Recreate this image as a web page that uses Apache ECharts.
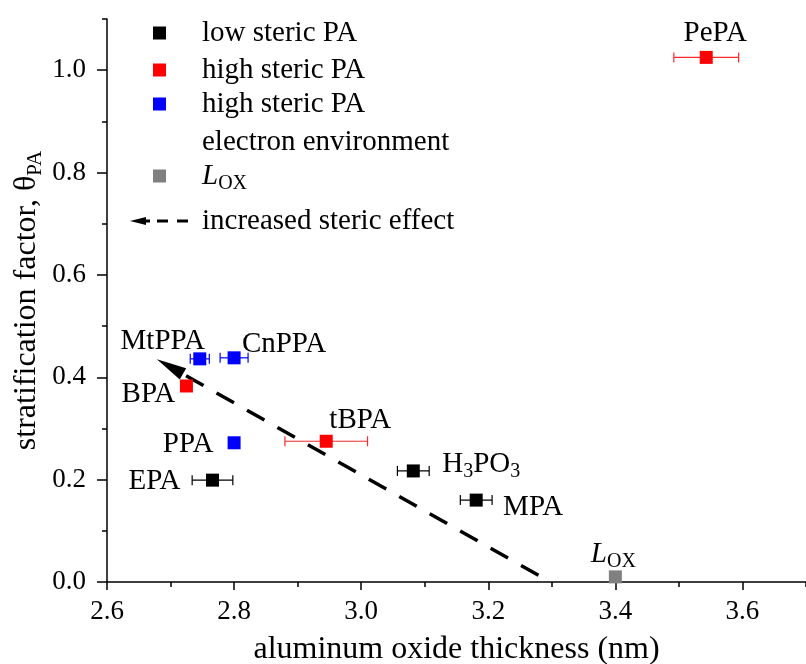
<!DOCTYPE html>
<html>
<head>
<meta charset="utf-8">
<script src="https://cdn.jsdelivr.net/npm/echarts@6/dist/echarts.min.js"></script>
<style>
  html, body { margin: 0; padding: 0; background: #fff; }
  #chart { width: 806px; height: 664px; }
</style>
</head>
<body>
<div id="chart"></div>
<script>
// ---- axis tick values ----
const xMajorTicks = [2.6, 2.8, 3.0, 3.2, 3.4, 3.6];
const xMinorTicks = [2.7, 2.9, 3.1, 3.3, 3.5, 3.7];
const yMajorTicks = [0.0, 0.2, 0.4, 0.6, 0.8, 1.0];
const yMinorTicks = [0.1, 0.3, 0.5, 0.7, 0.9, 1.1];

// ---- low steric phosphonic acids ----
const lowNames = ['EPA', 'H3PO3', 'MPA'];
const lowX     = [2.766, 3.082, 3.181];
const lowY     = [0.199, 0.217, 0.160];
const lowErr   = [0.032, 0.025, 0.025];

// ---- high steric phosphonic acids ----
const highNames = ['BPA', 'tBPA', 'PePA'];
const highX     = [2.725, 2.945, 3.543];
const highY     = [0.383, 0.275, 1.025];
const highErr   = [0, 0.065, 0.051];

// ---- high steric, modified electron environment ----
const elecNames = ['MtPPA', 'CnPPA', 'PPA'];
const elecX     = [2.746, 2.800, 2.800];
const elecY     = [0.436, 0.438, 0.272];
const elecErr   = [0.015, 0.022, 0];

// ---- oxide thickness reference ----
const loxNames = ['Lox'];
const loxX     = [3.40];
const loxY     = [0.010];

// ---- trend arrow (start, arrow head centre) ----
const arrowFrom = [3.279, 0.013];
const arrowTo   = [2.699, 0.421];

// ---- legend entries ----
const legendNames = ['low steric PA', 'high steric PA', 'high steric PA ', 'electron environment', 'Lox', 'increased steric effect'];

// ---------------------------------------------------------------
const FONT = '"Liberation Serif", "Times New Roman", serif';
const LABEL_SIZE = 29;
const rich = {
  n: { fontSize: LABEL_SIZE, fontFamily: FONT, color: '#000' },
  i: { fontSize: LABEL_SIZE, fontFamily: FONT, color: '#000', fontStyle: 'italic' },
  s: { fontSize: 20, fontFamily: FONT, color: '#000', padding: [16, 0, 0, 0] }
};

// label text and placement relative to each marker centre
const labelText = {
  H3PO3: '{n|H}{s|3}{n|PO}{s|3}',
  Lox: '{i|L}{s|OX}'
};
const labelOffset = {
  EPA: [-58, 1], H3PO3: [68, -7], MPA: [57, 7],
  BPA: [-38, 8], tBPA: [34, -21], PePA: [9, -24],
  MtPPA: [-37, -17], CnPPA: [50, -13], PPA: [-46, 2],
  Lox: [-2, -23]
};

function points(names, xs, ys) {
  return names.map((n, k) => ({
    name: n,
    value: [xs[k], ys[k]],
    label: { offset: labelOffset[n] }
  }));
}

function scatter(seriesName, names, xs, ys, color) {
  return {
    type: 'scatter',
    name: seriesName,
    xAxisIndex: 0, yAxisIndex: 0,
    symbol: 'rect',
    symbolSize: 13,
    itemStyle: { color: color, opacity: 1 },
    z: 5,
    label: {
      show: true,
      position: 'inside',
      align: 'center',
      verticalAlign: 'middle',
      color: '#000',
      opacity: 1,
      fontFamily: FONT,
      fontSize: LABEL_SIZE,
      rich: rich,
      formatter: p => labelText[p.name] || ('{n|' + p.name + '}')
    },
    data: points(names, xs, ys)
  };
}

function errorBars(xs, ys, errs, color) {
  const rows = [];
  xs.forEach((x, k) => { if (errs[k] > 0) rows.push([x, ys[k], errs[k]]); });
  return {
    type: 'custom',
    xAxisIndex: 0, yAxisIndex: 0,
    z: 3,
    silent: true,
    encode: { x: 0, y: 1 },
    renderItem: function (params, api) {
      const x = api.value(0), y = api.value(1), e = api.value(2);
      const a = api.coord([x - e, y]);
      const b = api.coord([x + e, y]);
      const h = 5;
      const st = { stroke: color, lineWidth: 1.2, fill: null };
      return {
        type: 'group',
        children: [
          { type: 'line', shape: { x1: a[0], y1: a[1], x2: b[0], y2: b[1] }, style: st },
          { type: 'line', shape: { x1: a[0], y1: a[1] - h, x2: a[0], y2: a[1] + h }, style: st },
          { type: 'line', shape: { x1: b[0], y1: b[1] - h, x2: b[0], y2: b[1] + h }, style: st }
        ]
      };
    },
    data: rows
  };
}

const axisLineStyle = { color: '#000', width: 1.5 };

const squareIcon = 'path://M0,0H10V10H0Z';
const arrowIcon = 'path://M0,4.5L16,0.5V3H20V6H16V8.5Z M27,3H38V6H27Z M47,3H58V6H47Z';
const legendTop = [18, 55, 89, 127, 161, 206];
const legendIcon = [squareIcon, squareIcon, squareIcon, squareIcon, squareIcon, arrowIcon];
const legendText = ['low steric PA', 'high steric PA', 'high steric PA', 'electron environment', '{i|L}{s|OX}', 'increased steric effect'];

const legends = legendNames.map((n, k) => {
  const isArrow = k === 5;
  return {
    data: [{
      name: n,
      icon: legendIcon[k],
      itemStyle: n === 'electron environment' ? { opacity: 0 } : { opacity: 1 }
    }],
    left: isArrow ? 130 : 153,
    top: legendTop[k],
    orient: 'vertical',
    padding: 0,
    itemWidth: isArrow ? 58 : 13,
    itemHeight: isArrow ? 9 : 13,
    selectedMode: false,
    formatter: () => legendText[k],
    textStyle: {
      fontFamily: FONT, fontSize: LABEL_SIZE, color: '#000', lineHeight: 30,
      padding: [0, 0, 0, isArrow ? 9 : 31], rich: rich
    }
  };
});

const option = {
  animation: false,
  backgroundColor: '#fff',
  grid: { left: 107, right: 0, top: 19, bottom: 82, containLabel: false, outerBoundsMode: 'none' },
  legend: legends,
  xAxis: [{
    type: 'value', min: 2.6, max: 3.7, position: 'bottom', offset: 0,
    name: 'aluminum oxide thickness (nm)',
    nameLocation: 'middle', nameGap: 68, nameMoveOverlap: false,
    nameTextStyle: { fontFamily: FONT, fontSize: 32, color: '#000', verticalAlign: 'middle', lineHeight: 34 },
    axisLine: { show: true, onZero: false, lineStyle: axisLineStyle },
    axisTick: { show: true, inside: false, length: 8, customValues: xMajorTicks, lineStyle: axisLineStyle },
    axisLabel: { show: true, customValues: xMajorTicks, margin: 16, fontFamily: FONT, fontSize: 27, color: '#000',
                 formatter: v => v.toFixed(1) },
    splitLine: { show: false }
  }, {
    type: 'value', min: 2.6, max: 3.7, position: 'bottom', offset: 0,
    axisLine: { show: false },
    axisTick: { show: true, inside: false, length: 5, customValues: xMinorTicks, lineStyle: axisLineStyle },
    axisLabel: { show: false },
    splitLine: { show: false }
  }],
  yAxis: [{
    type: 'value', min: 0, max: 1.1, position: 'left', offset: 0,
    name: '{a|stratification factor, θ}{b|PA}',
    nameLocation: 'middle', nameGap: 61, nameRotate: 90, nameMoveOverlap: false,
    nameTextStyle: {
      fontFamily: FONT, fontSize: 32, color: '#000',
      rich: {
        a: { fontFamily: FONT, fontSize: 32, color: '#000' },
        b: { fontFamily: FONT, fontSize: 21, color: '#000', padding: [18, 0, 0, 0] }
      }
    },
    axisLine: { show: true, onZero: false, lineStyle: axisLineStyle },
    axisTick: { show: true, inside: false, length: 10, customValues: yMajorTicks, lineStyle: axisLineStyle },
    axisLabel: { show: true, customValues: yMajorTicks, margin: 21, fontFamily: FONT, fontSize: 27, color: '#000',
                 formatter: v => v.toFixed(1) },
    splitLine: { show: false }
  }, {
    type: 'value', min: 0, max: 1.1, position: 'left', offset: 0,
    axisLine: { show: false },
    axisTick: { show: true, inside: false, length: 5, customValues: yMinorTicks, lineStyle: axisLineStyle },
    axisLabel: { show: false },
    splitLine: { show: false }
  }],
  series: [
    errorBars(lowX, lowY, lowErr, '#000000'),
    errorBars(highX, highY, highErr, '#ff2a2a'),
    errorBars(elecX, elecY, elecErr, '#0000ff'),
    scatter('low steric PA', lowNames, lowX, lowY, '#000000'),
    scatter('high steric PA', highNames, highX, highY, '#ff0000'),
    scatter('high steric PA ', elecNames, elecX, elecY, '#0000ff'),
    { type: 'scatter', name: 'electron environment', data: [], itemStyle: { color: '#ffffff' } },
    scatter('Lox', loxNames, loxX, loxY, '#808080'),
    {
      type: 'line',
      name: 'increased steric effect',
      xAxisIndex: 0, yAxisIndex: 0,
      data: [],
      itemStyle: { color: '#000', opacity: 1 },
      lineStyle: { color: '#000' },
      markLine: {
        silent: true,
        symbol: ['none', 'triangle'],
        symbolSize: [13, 30],
        label: { show: false },
        lineStyle: { color: '#000', width: 3.5, type: [20, 15], opacity: 1 },
        data: [[{ coord: arrowFrom }, { coord: arrowTo }]]
      },
      z: 4
    }
  ]
};

const chart = echarts.init(document.getElementById('chart'), null, { renderer: 'canvas' });
chart.setOption(option);
</script>
</body>
</html>
